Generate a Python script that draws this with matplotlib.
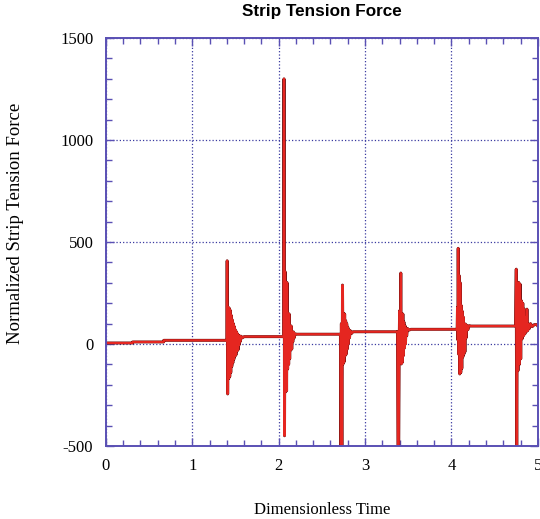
import numpy as np
import matplotlib
matplotlib.use("Agg")
import matplotlib.pyplot as plt
from matplotlib.ticker import MultipleLocator

plt.rcParams['axes.unicode_minus'] = False

# baseline tension level between the impacts
step_t = [0.0, 0.31, 0.67, 1.40, 2.06, 2.73, 3.38, 4.07, 4.745, 5.0]
step_v = [5, 10, 18, 28, 36, 48, 60, 72, 88, 90]

# oscillation bursts (time, value)
burst1_t = [1.400, 1.404, 1.410, 1.416, 1.422, 1.428, 1.434, 1.440, 1.446, 1.452, 1.458, 1.464,
            1.470, 1.476, 1.482, 1.488, 1.494, 1.500, 1.506, 1.512, 1.518, 1.524, 1.530, 1.536,
            1.542, 1.548, 1.556, 1.566, 1.580, 1.600]
burst1_v = [28, 408, -245, 180, -170, 176, -160, 165, -140, 140, -110, 118, -93, 100, -75, 85,
            -60, 69, -54, 60, -35, 50, -29, 42, -5, 40, 12, 38, 30, 36]

burst2_t = [2.058, 2.062, 2.068, 2.074, 2.080, 2.086, 2.092, 2.098, 2.104, 2.110, 2.116, 2.122,
            2.128, 2.134, 2.140, 2.146, 2.152, 2.158, 2.164, 2.172, 2.180, 2.190, 2.210]
burst2_v = [36, 1300, -450, 355, -235, 304, -230, 300, -123, 150, -100, 147, -73, 90, -30, 88,
            -25, 60, 10, 59, 30, 50, 48]

burst3_t = [2.715, 2.720, 2.726, 2.732, 2.739, 2.746, 2.752, 2.758, 2.764, 2.770, 2.776, 2.782,
            2.788, 2.794, 2.800, 2.806, 2.812, 2.820, 2.830, 2.845, 2.860]
burst3_v = [48, -700, 100, -700, 289, -98, 150, -88, 147, -57, 114, -50, 100, -25, 83, 0,
            70, 30, 65, 52, 60]

burst4_t = [3.375, 3.383, 3.388, 3.396, 3.400, 3.408, 3.414, 3.420, 3.426, 3.432, 3.438, 3.444,
            3.450, 3.456, 3.462, 3.468, 3.474, 3.482, 3.492, 3.510, 3.530]
burst4_v = [60, -700, -700, 30, 163, -50, 348, -98, 150, -90, 147, -57, 108, -20, 90, 0,
            78, 40, 76, 68, 72]

burst5_t = [4.066, 4.070, 4.074, 4.078, 4.084, 4.090, 4.096, 4.102, 4.108, 4.114, 4.120, 4.126,
            4.132, 4.138, 4.144, 4.150, 4.156, 4.162, 4.170, 4.178, 4.190, 4.205, 4.225]
burst5_v = [72, 180, 20, 469, -50, 335, -147, 300, -140, 188, -120, 160, -64, 132, -50, 98,
            -39, 98, 30, 92, 70, 90, 88]

burst6_t = [4.742, 4.750, 4.756, 4.762, 4.770, 4.778, 4.786, 4.794, 4.802, 4.810, 4.818, 4.826,
            4.834, 4.842, 4.850, 4.858, 4.866, 4.874, 4.882, 4.890, 4.900, 4.915, 4.935, 4.960]
burst6_v = [88, 367, -700, 300, -131, 302, -100, 294, -73, 212, 25, 200, 40, 171, 49, 132,
            60, 171, 65, 98, 75, 100, 85, 95]

bursts = [(burst1_t, burst1_v), (burst2_t, burst2_v), (burst3_t, burst3_v),
          (burst4_t, burst4_v), (burst5_t, burst5_v), (burst6_t, burst6_v)]

# stitch baseline and bursts into one time series
t_all = []
v_all = []
for i in range(len(step_t) - 1):
    t_all.append(step_t[i])
    v_all.append(step_v[i])
    if i >= 3 and i - 3 < len(bursts):
        bt, bv = bursts[i - 3]
        t_all.extend(bt)
        v_all.extend(bv)
        t_all.append(step_t[i + 1])
        v_all.append(bv[-1])
    else:
        t_all.append(step_t[i + 1])
        v_all.append(step_v[i])
t_all.append(step_t[-1])
v_all.append(step_v[-1])

fig = plt.figure(figsize=(5.4, 5.19), dpi=100)
ax = fig.add_axes([0.196, 0.1407, 0.8, 0.786])

ax.plot(t_all, v_all, color='#6a1010', linewidth=2.1)
ax.plot(t_all, v_all, color='#e52620', linewidth=1.5)

ax.set_xlim(0, 5)
ax.set_ylim(-500, 1500)
ax.xaxis.set_major_locator(MultipleLocator(1))
ax.xaxis.set_minor_locator(MultipleLocator(0.2))
ax.yaxis.set_major_locator(MultipleLocator(500))
ax.yaxis.set_minor_locator(MultipleLocator(100))

frame = '#5a50b4'
for s in ax.spines.values():
    s.set_color(frame)
    s.set_linewidth(1.4)
ax.tick_params(which='both', direction='in', top=True, right=True, color=frame)
ax.tick_params(which='major', length=6, width=1.0, pad=9)
ax.tick_params(which='minor', length=4, width=1.0)
ax.grid(True, which='major', linestyle=':', linewidth=0.9, color='#3a3aa0')

for lab in ax.get_xticklabels() + ax.get_yticklabels():
    lab.set_fontfamily('Liberation Serif')
    lab.set_fontsize(12)

fig.text(0.596, 0.977, 'Strip Tension Force', ha='center', va='center',
         fontfamily='Liberation Sans', fontweight='bold', fontsize=12.3)
fig.text(0.596, 0.018, 'Dimensionless Time', ha='center', va='center',
         fontfamily='Liberation Serif', fontsize=12)
fig.text(0.028, 0.57, 'Normalized Strip Tension Force', ha='center', va='center',
         rotation=90, fontfamily='Liberation Serif', fontsize=13.5)

fig.savefig('out.png', dpi=100)
